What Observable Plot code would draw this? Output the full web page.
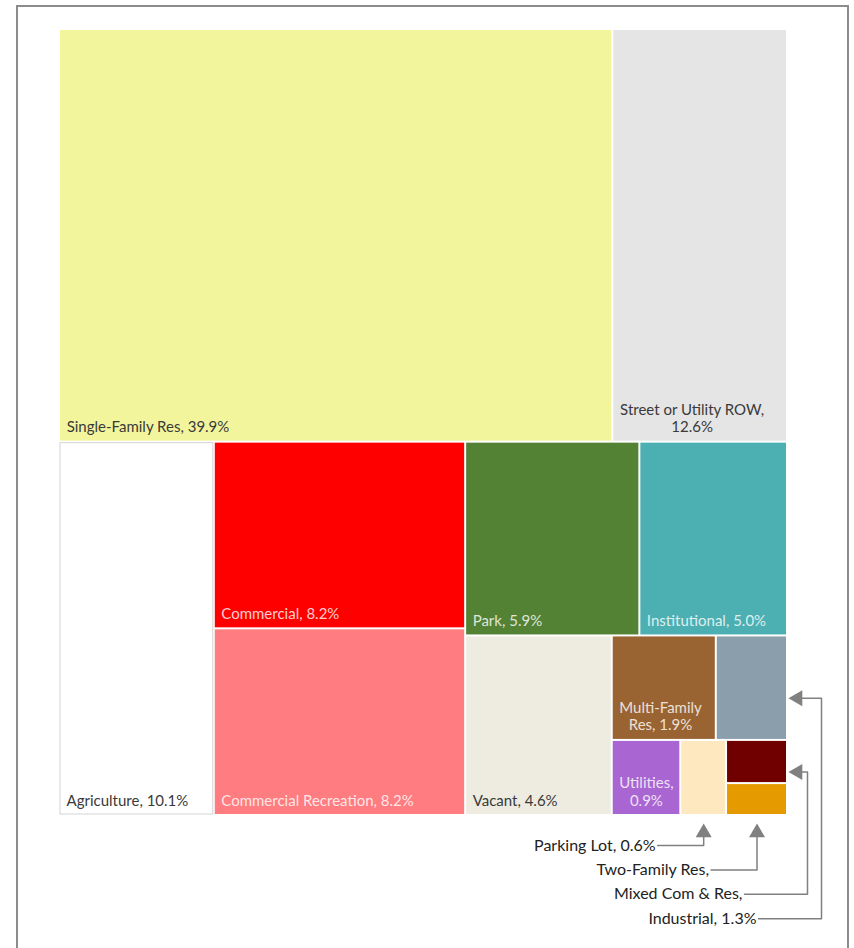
<!DOCTYPE html>
<html><head><meta charset="utf-8">
<script src="https://cdn.jsdelivr.net/npm/d3@7"></script>
<script src="https://cdn.jsdelivr.net/npm/@observablehq/plot@0.6"></script>
<style>
html,body{margin:0;padding:0;background:#fff;overflow:hidden;}
#wrap{position:relative;width:854px;height:948px;}
#frame{position:absolute;left:16px;top:5px;width:833px;height:1000px;border:2px solid #8c8c8c;box-sizing:border-box;pointer-events:none;}
</style></head><body><div id="wrap"><div id="chart"></div><div id="frame"></div></div>
<script>
// ---- data ----
const categories = ["Single-Family Res","Street or Utility ROW","Agriculture","Commercial","Commercial Recreation","Park","Institutional","Vacant","Multi-Family Res","Industrial","Utilities","Parking Lot","Mixed Com & Res","Two-Family Res"];
const shares = [39.9, 12.6, 10.1, 8.2, 8.2, 5.9, 5.0, 4.6, 1.9, 1.3, 0.9, 0.6, 0.46, 0.34];
const colors = ["#f3f59d","#e5e5e5","#ffffff","#ff0000","#ff7c80","#548235","#4cafb2","#eeece1","#9a6432","#8a9eab","#a966d2","#fde8c0","#700000","#e59b00"];
// number of tiles in each successive strip of the treemap (as laid out in the reference)
const stripCounts = [2, 1, 2, 2, 1, 2, 1, 1, 1, 1];
// small tiles labelled outside the treemap
const calloutTargets = ["Parking Lot","Two-Family Res","Mixed Com & Res","Industrial"];
const calloutTexts = ["Parking Lot, 0.6%","Two-Family Res,","Mixed Com & Res,","Industrial, 1.3%"];

// ---- layout ----
const width = 854, height = 948;
const margin = {top: 29, right: 67, bottom: 133, left: 59};
const W = width - margin.left - margin.right;
const H = height - margin.top - margin.bottom;

function stripTile(parent, x0, y0, x1, y1) {
  const nodes = parent.children;
  let value = parent.value, i = 0, s = 0;
  while (i < nodes.length) {
    const dx = x1 - x0, dy = y1 - y0;
    const n = stripCounts[s++] || (nodes.length - i);
    const row = nodes.slice(i, i + n);
    const sum = d3.sum(row, d => d.value);
    if (dx < dy) {
      const h = dy * sum / value;
      let x = x0;
      for (const d of row) { d.x0 = x; x += dx * d.value / sum; d.x1 = x; d.y0 = y0; d.y1 = y0 + h; }
      y0 += h;
    } else {
      const w = dx * sum / value;
      let y = y0;
      for (const d of row) { d.y0 = y; y += dy * d.value / sum; d.y1 = y; d.x0 = x0; d.x1 = x0 + w; }
      x0 += w;
    }
    value -= sum; i += n;
  }
}

const root = d3.hierarchy({children: categories.map((name, i) => ({name, share: shares[i], color: colors[i]}))})
  .sum(d => d.share || 0)
  .sort((a, b) => b.value - a.value);
d3.treemap().tile(stripTile).size([W, H])(root);
const cells = root.leaves().map(d => ({...d.data, x0: d.x0, x1: d.x1, y0: d.y0, y1: d.y1}));

// ---- labels inside tiles ----
const labelSize = 15, pad = 7, lineH = 17.5, bottomPad = 10;
const ctx = document.createElement("canvas").getContext("2d");
ctx.font = `${labelSize}px Lato`;
function wrap(text, maxW) {
  const words = text.split(" "), lines = [];
  let cur = "";
  for (const w of words) {
    const t = cur ? cur + " " + w : w;
    if (cur && ctx.measureText(t).width > maxW) { lines.push(cur); cur = w; } else cur = t;
  }
  if (cur) lines.push(cur);
  return lines;
}
const labelLines = [];
for (const c of cells) {
  if (calloutTargets.includes(c.name)) continue;
  const lines = wrap(`${c.name}, ${c.share.toFixed(1)}%`, c.x1 - c.x0 - 2 * pad);
  const blockW = d3.max(lines, l => ctx.measureText(l).width);
  const dark = d3.lab(c.color).l > 75;
  lines.forEach((line, k) => labelLines.push({
    text: line, dark,
    x: c.x0 + pad + blockW / 2,
    y: c.y1 - bottomPad - (lines.length - 1 - k) * lineH - 0.32 * labelSize
  }));
}

// ---- callouts ----
const calloutLabels = [], calloutPaths = [], calloutHeads = [];
const headOffset = 9.2;
let rightIndex = 0;
calloutTargets.forEach((name, i) => {
  const c = cells.find(d => d.name === name);
  const rowY = H + 30 + i * 24.4;
  if (Math.abs(c.y1 - H) < 1e-6) {
    const ax = (c.x0 + c.x1) / 2, tipY = H + 8;
    const textEnd = ax - 48;
    calloutLabels.push({text: calloutTexts[i], x: textEnd, y: rowY});
    calloutPaths.push({id: i, x: textEnd + 2, y: rowY}, {id: i, x: ax, y: rowY}, {id: i, x: ax, y: tipY + 10});
    calloutHeads.push({x: ax, y: tipY + headOffset, rotate: 0});
  } else {
    const ay = (c.y0 + c.y1) / 2 + 10, tipX = W + 1;
    const elbowX = W + 20 + 14 * rightIndex++;
    const textEnd = elbowX - 65;
    calloutLabels.push({text: calloutTexts[i], x: textEnd, y: rowY});
    calloutPaths.push({id: i, x: textEnd + 2, y: rowY}, {id: i, x: elbowX, y: rowY}, {id: i, x: elbowX, y: ay}, {id: i, x: tipX + 10, y: ay});
    calloutHeads.push({x: tipX + headOffset, y: ay, rotate: -90});
  }
});

const chart = Plot.plot({
  width, height,
  marginTop: margin.top, marginRight: margin.right, marginBottom: margin.bottom, marginLeft: margin.left,
  x: {domain: [0, W], axis: null},
  y: {domain: [0, H], axis: null, reverse: true},
  color: {domain: categories, range: colors},
  style: {fontFamily: "Lato, sans-serif", background: "white"},
  marks: [
    Plot.rect(cells, {x1: "x0", x2: "x1", y1: "y0", y2: "y1", fill: "name", inset: 1}),
    Plot.rect(cells.filter(d => d.color === "#ffffff"), {x1: "x0", x2: "x1", y1: "y0", y2: "y1", fill: "none", stroke: "#d4d4d4", strokeWidth: 1, inset: 1}),
    Plot.text(labelLines.filter(d => d.dark), {x: "x", y: "y", text: "text", textAnchor: "middle", fontSize: labelSize, fill: "#3a3a3a"}),
    Plot.text(labelLines.filter(d => !d.dark), {x: "x", y: "y", text: "text", textAnchor: "middle", fontSize: labelSize, fill: "white", fillOpacity: 0.82}),
    Plot.line(calloutPaths, {x: "x", y: "y", z: "id", stroke: "#808080", strokeWidth: 1.5}),
    Plot.dot(calloutHeads, {x: "x", y: "y", rotate: "rotate", symbol: "triangle", r: 5.94, fill: "#808080", stroke: "none"}),
    Plot.text(calloutLabels, {x: "x", y: "y", text: "text", textAnchor: "end", fontSize: 16, fill: "#222"})
  ]
});
document.getElementById("chart").appendChild(chart);
</script></body></html>
